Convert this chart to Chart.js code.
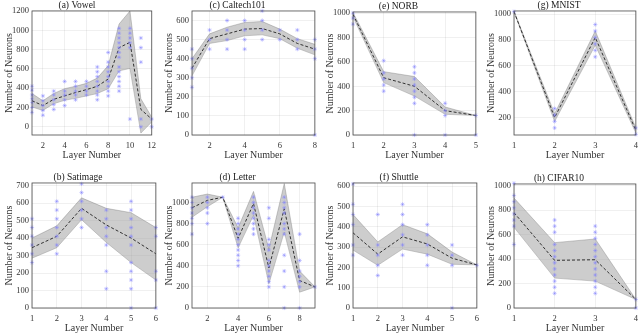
<!DOCTYPE html>
<html>
<head>
<meta charset="utf-8">
<script src="https://cdn.jsdelivr.net/npm/chart.js@4.4.0/dist/chart.umd.min.js"></script>
<style>
	html, body { margin: 0; padding: 0; background: #fff; }
	body { width: 640px; height: 333px; position: relative; overflow: hidden; }
	.panel { position: absolute; }
</style>
</head>
<body>
<script>
// ---- data ----
const vowelMean  = [270, 220, 285, 320, 355, 385, 420, 495, 820, 875, 180, 80];
const vowelUpper = [345, 270, 345, 395, 420, 450, 505, 635, 1065, 1200, 290, 100];
const vowelLower = [205, 170, 240, 275, 295, 320, 345, 395, 580, 605, -65, 50];
const vowelPoints = [
	[420, 380, 330, 290, 250, 200, 150], [320, 270, 220, 170, 120], [370, 330, 280, 230, 180],
	[470, 370, 330, 280, 220], [470, 420, 370, 330, 280], [470, 420, 370, 330],
	[620, 570, 520, 470, 420, 370, 330, 280], [770, 670, 620, 570, 520, 470, 420, 370, 320],
	[1020, 970, 920, 870, 820, 770, 720, 620, 570, 520, 470, 420, 370],
	[1020, 970, 920, 870, 820, 80], [920, 820, 670, 80, 0], [80, 0],
];

const caltechMean  = [350, 505, 530, 555, 558, 530, 480, 450];
const caltechUpper = [400, 530, 565, 590, 595, 555, 505, 475];
const caltechLower = [310, 480, 495, 520, 525, 505, 455, 420];
const caltechPoints = [
	[450, 400, 350, 300, 250], [550, 500, 450], [600, 550, 500, 450], [600, 550, 500, 450],
	[650, 600, 550, 500], [550, 500], [550, 500, 450], [500, 450, 400, 0],
];

const norbMean  = [990, 470, 400, 200, 160];
const norbUpper = [1005, 520, 480, 230, 160];
const norbLower = [970, 430, 320, 170, 160];
const norbPoints = [
	[1000, 960, 910], [610, 510, 460, 410, 360], [560, 510, 460, 410, 360, 310, 260, 0],
	[260, 200, 160, 0], [160, 0],
];

const mnistMean  = [1020, 200, 820, 100];
const mnistUpper = [1024, 230, 870, 120];
const mnistLower = [1018, 170, 760, 80];
const mnistPoints = [
	[1020], [270, 220, 170, 120], [920, 870, 820, 770, 720, 670], [120, 70],
];

const satMean  = [345, 410, 570, 475, 400, 310];
const satUpper = [400, 470, 630, 570, 545, 460];
const satLower = [285, 345, 505, 375, 260, 160];
const satPoints = [
	[510, 460, 410, 360, 310, 260], [610, 560, 510, 460, 410, 360, 310], [710, 660, 610, 560, 510, 460],
	[560, 510, 460, 410, 360, 210, 110], [610, 560, 510, 460, 410, 360, 260, 210, 160, 110, 0],
	[460, 410, 210, 160, 0],
];

const letterMean  = [950, 1020, 1050, 660, 990, 380, 940, 260, 200];
const letterUpper = [1050, 1080, 1050, 760, 1105, 560, 1180, 350, 200];
const letterLower = [860, 960, 1050, 570, 880, 230, 720, 150, 200];
const letterPoints = [
	[1050, 1000, 950, 900, 850, 800, 700], [1050, 1000, 950, 900, 800], [1050],
	[850, 800, 750, 700, 650, 600, 550, 500, 450, 400], [1050, 1000, 950, 900, 850, 800, 750, 700],
	[950, 850, 650, 600, 550, 450, 400, 350, 300, 250, 200],
	[1050, 1000, 950, 900, 800, 750, 700, 500, 350, 200, 0], [700, 450, 350, 300, 250, 200, 0], [200],
];

const shuttleMean  = [370, 265, 350, 315, 245, 212];
const shuttleUpper = [460, 325, 410, 365, 275, 212];
const shuttleLower = [285, 210, 290, 265, 215, 212];
const shuttlePoints = [
	[610, 510, 460, 410, 310, 260], [460, 310, 260, 210, 160], [510, 460, 410, 360, 310, 260],
	[410, 360, 310, 260, 210], [310, 260, 210, 0], [210],
];

const cifarMean  = [780, 390, 395, 70];
const cifarUpper = [900, 535, 565, 70];
const cifarLower = [660, 245, 220, 70];
const cifarPoints = [
	[1020, 920, 870, 820, 770, 720, 670, 520],
	[720, 670, 620, 520, 470, 420, 370, 320, 270, 220, 170, 120],
	[670, 620, 570, 520, 470, 420, 370, 320, 270, 220, 170, 120], [70, 0],
];

// tick labels
const ticksEven12 = [2, 4, 6, 8, 10, 12];
const ticksEven8 = [2, 4, 6, 8];
const ticks1to4 = [1, 2, 3, 4];
const ticks1to5 = [1, 2, 3, 4, 5];
const ticks1to6 = [1, 2, 3, 4, 5, 6];

const Y_W = 32, X_H = 28, TITLE_H = 10, PAD_R = 8;
const FONT = "'Liberation Serif', 'DejaVu Serif', serif";

const panels = [
	{ title: "(a) Vowel", box: [32, 11, 154, 135], mean: vowelMean, upper: vowelUpper, lower: vowelLower, pts: vowelPoints,
		xTicks: ticksEven12, yMin: -85, yMax: 1200, yTicks: [0, 200, 400, 600, 800, 1000, 1200] },
	{ title: "(c) Caltech101", box: [192, 11, 315, 135], mean: caltechMean, upper: caltechUpper, lower: caltechLower, pts: caltechPoints,
		xTicks: ticksEven8, yMin: 0, yMax: 650, yTicks: [0, 100, 200, 300, 400, 500, 600] },
	{ title: "(e) NORB", box: [353, 12, 476, 135], mean: norbMean, upper: norbUpper, lower: norbLower, pts: norbPoints,
		xTicks: ticks1to5, yMin: 0, yMax: 1010, yTicks: [0, 200, 400, 600, 800, 1000] },
	{ title: "(g) MNIST", box: [514, 11, 636, 135], mean: mnistMean, upper: mnistUpper, lower: mnistLower, pts: mnistPoints,
		xTicks: ticks1to4, yMin: 65, yMax: 1025, yTicks: [200, 400, 600, 800, 1000] },
	{ title: "(b) Satimage", box: [32, 183, 156, 308], mean: satMean, upper: satUpper, lower: satLower, pts: satPoints,
		xTicks: ticks1to6, yMin: 0, yMax: 715, yTicks: [0, 100, 200, 300, 400, 500, 600, 700] },
	{ title: "(d) Letter", box: [192, 183, 315, 308], mean: letterMean, upper: letterUpper, lower: letterLower, pts: letterPoints,
		xTicks: ticksEven8, yMin: 0, yMax: 1185, yTicks: [0, 200, 400, 600, 800, 1000] },
	{ title: "(f) Shuttle", box: [353, 183, 477, 308], mean: shuttleMean, upper: shuttleUpper, lower: shuttleLower, pts: shuttlePoints,
		xTicks: ticks1to6, yMin: 0, yMax: 615, yTicks: [0, 100, 200, 300, 400, 500, 600] },
	{ title: "(h) CIFAR10", box: [514, 184, 636, 308], mean: cifarMean, upper: cifarUpper, lower: cifarLower, pts: cifarPoints,
		xTicks: ticks1to4, yMin: 0, yMax: 1015, yTicks: [0, 200, 400, 600, 800, 1000] },
];

const toXY = (arr) => arr.map((y, i) => ({ x: i + 1, y }));
const toPts = (layers) => layers.flatMap((ys, i) => ys.map((y) => ({ x: i + 1, y })));

const boxPlugin = {
	id: "box",
	afterDraw(chart) {
		const { ctx, chartArea: a } = chart;
		ctx.save();
		ctx.strokeStyle = "#4a4a4a";
		ctx.lineWidth = 0.8;
		ctx.strokeRect(a.left, a.top, a.right - a.left, a.bottom - a.top);
		ctx.restore();
	},
};

panels.forEach((p) => {
	const [x0, y0, x1, y1] = p.box;
	const div = document.createElement("div");
	div.className = "panel";
	div.style.left = (x0 - Y_W) + "px";
	div.style.top = (y0 - TITLE_H) + "px";
	div.style.width = (x1 - x0 + Y_W + PAD_R) + "px";
	div.style.height = (y1 - y0 + TITLE_H + X_H) + "px";
	const cv = document.createElement("canvas");
	div.appendChild(cv);
	document.body.appendChild(div);

	const n = p.mean.length;
	new Chart(cv.getContext("2d"), {
		type: "line",
		data: {
			datasets: [
				{
					data: toPts(p.pts), showLine: false, pointStyle: "star", pointRadius: 2.1,
					borderColor: "rgba(125,125,255,0.6)", backgroundColor: "rgba(125,125,255,0.6)",
					pointBorderWidth: 0.7, order: 0, clip: false,
				},
				{
					data: toXY(p.mean), borderColor: "#151515", borderWidth: 0.85, borderDash: [3, 2],
					pointRadius: 0, fill: false, order: 1,
				},
				{
					data: toXY(p.upper), borderColor: "rgba(90,90,90,0.5)", borderWidth: 0.6,
					pointRadius: 0, fill: "+1", backgroundColor: "rgba(155,155,155,0.5)", order: 2,
				},
				{
					data: toXY(p.lower), borderColor: "rgba(90,90,90,0.5)", borderWidth: 0.6,
					pointRadius: 0, fill: false, order: 3,
				},
			],
		},
		options: {
			responsive: true,
			maintainAspectRatio: false,
			animation: false,
			layout: { padding: { left: 0, right: PAD_R, top: 0, bottom: 0 } },
			plugins: {
				legend: { display: false },
				tooltip: { enabled: false },
				title: {
					display: true, text: p.title, color: "#1a1a1a",
					font: { family: FONT, size: 9.5, weight: "normal", lineHeight: 1.05 },
					padding: 0,
				},
			},
			scales: {
				x: {
					type: "linear", min: 1, max: n,
					afterBuildTicks: (s) => { s.ticks = p.xTicks.map((v) => ({ value: v })); },
					afterFit: (s) => { s.height = X_H; },
					grid: { color: "rgba(0,0,0,0.08)", lineWidth: 0.8, drawTicks: false },
					border: { display: false },
					ticks: { padding: 6, maxRotation: 0, color: "#333", font: { family: FONT, size: 8.5 },
						callback: (v) => String(v) },
					title: { display: true, text: "Layer Number", color: "#333",
						font: { family: FONT, size: 10 }, padding: { top: 0, bottom: 2 } },
				},
				y: {
					min: p.yMin, max: p.yMax,
					afterBuildTicks: (s) => { s.ticks = p.yTicks.map((v) => ({ value: v })); },
					afterFit: (s) => { s.width = Y_W; },
					grid: { color: "rgba(0,0,0,0.08)", lineWidth: 0.8, drawTicks: false },
					border: { display: false },
					ticks: { padding: 3, color: "#333", font: { family: FONT, size: 8.5 },
						callback: (v) => String(v) },
					title: { display: true, text: "Number of Neurons", color: "#333",
						font: { family: FONT, size: 10 }, padding: { top: 3, bottom: 0 } },
				},
			},
		},
		plugins: [boxPlugin],
	});
});
</script>
</body>
</html>
